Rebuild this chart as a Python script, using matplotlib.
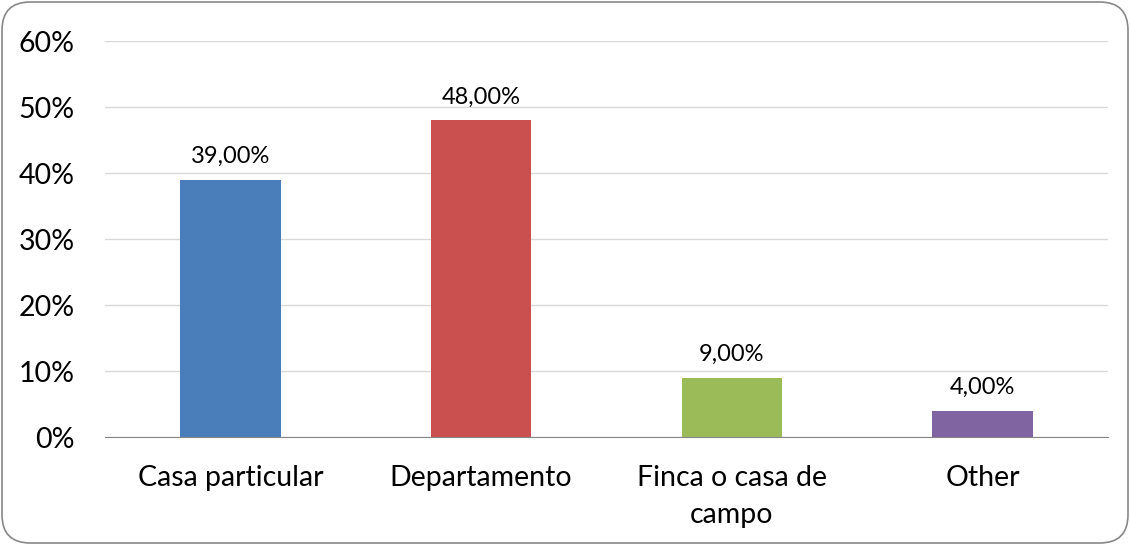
import matplotlib.pyplot as plt
from matplotlib.patches import FancyBboxPatch
from matplotlib.ticker import FuncFormatter

categories = ["Casa particular", "Departamento", "Finca o casa de\ncampo", "Other"]
values = [39.0, 48.0, 9.0, 4.0]
colors = ["#4A7EBB", "#C9504E", "#9BBB59", "#8064A2"]
yticks = [0, 10, 20, 30, 40, 50, 60]

plt.rcParams["font.family"] = ["Lato", "DejaVu Sans"]

fig = plt.figure(figsize=(11.30, 5.45), dpi=100)
ax = fig.add_axes([105 / 1130, 1 - 437 / 545, (1108 - 105) / 1130, (437 - 41) / 545])

x = range(len(categories))
ax.bar(x, values, width=0.4, color=colors, zorder=2)
for xi, v in zip(x, values):
    ax.annotate(f"{v:.2f}%".replace(".", ","), (xi, v), xytext=(0, 9),
                textcoords="offset points", ha="center", va="bottom", fontsize=17)

ax.set_xlim(-0.5, len(categories) - 0.5)
ax.set_ylim(0, 60)
ax.set_yticks(yticks)
ax.yaxis.set_major_formatter(FuncFormatter(lambda v, _: f"{v:.0f}%"))
ax.set_xticks(list(x))
ax.set_xticklabels(categories, fontsize=20.5, va="top", linespacing=1.55)
ax.tick_params(axis="y", labelsize=20.5, length=0, pad=22)
ax.tick_params(axis="x", length=0, pad=20)
ax.grid(axis="y", color="#D9D9D9", linewidth=1, zorder=0)
for s in ["top", "right", "left"]:
    ax.spines[s].set_visible(False)
ax.spines["bottom"].set_color("#868686")
ax.spines["bottom"].set_zorder(3)

border = FancyBboxPatch((2 / 1130, 2 / 545), 1 - 4 / 1130, 1 - 4 / 545,
                        boxstyle="round,pad=0,rounding_size=0.025",
                        transform=fig.transFigure, fill=False,
                        edgecolor="#888888", linewidth=1.2, mutation_aspect=1130 / 545)
fig.patches.append(border)

fig.savefig("out.png", dpi=100)
